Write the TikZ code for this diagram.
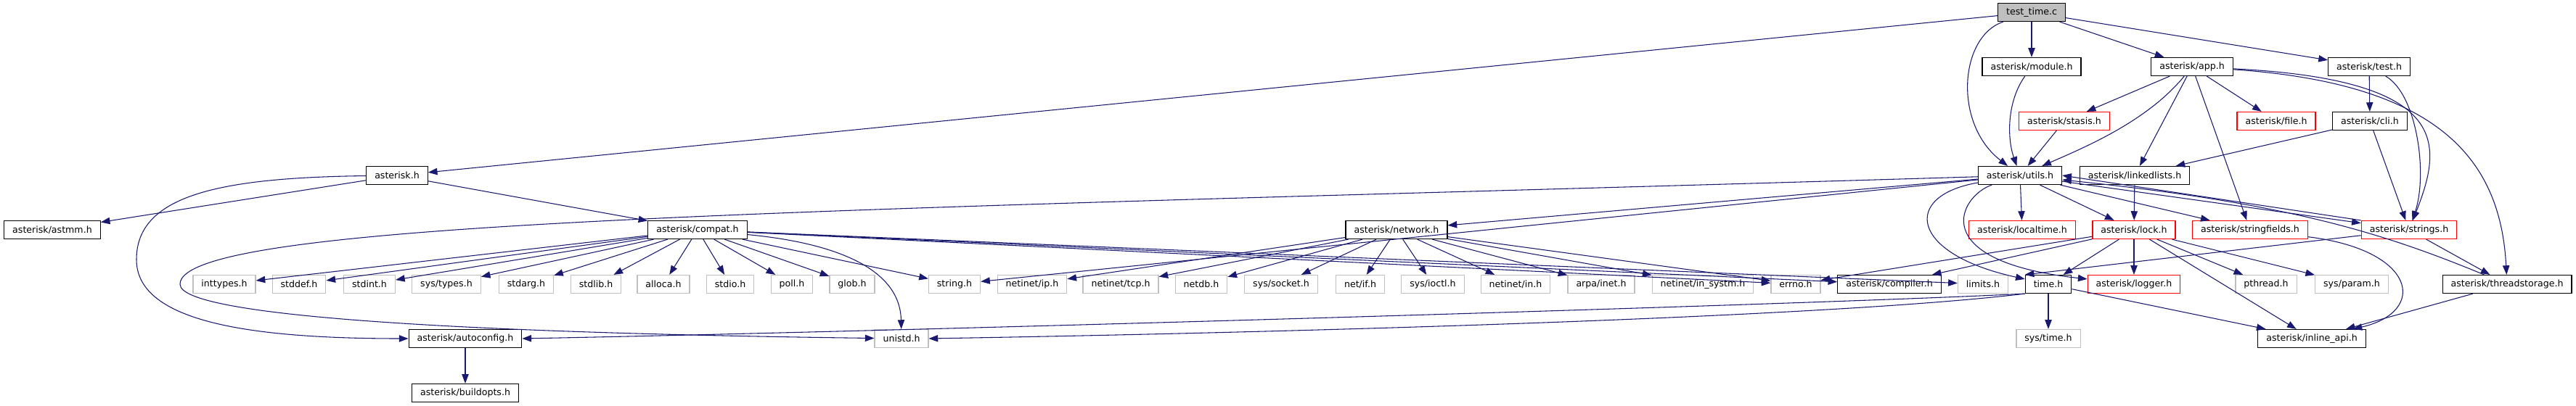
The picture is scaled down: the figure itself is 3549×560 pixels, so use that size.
\documentclass[tikz,border=0pt]{standalone}
\usepackage{fontspec}
\usepackage{xcolor}
\usepackage{tikz}
\usetikzlibrary{arrows.meta}
\newfontfamily\dejavu{DejaVu Sans}
\newcommand{\hdrfont}{\dejavu\fontsize{9.45}{11}\selectfont}
\definecolor{edgeblue}{HTML}{191970}
\definecolor{sysgrey}{HTML}{BFBFBF}

\begin{document}
\begin{tikzpicture}[
		x=0.75pt, y=-0.75pt,
		hdr/.style={rectangle, font=\hdrfont, inner xsep=8.6pt, inner ysep=2pt, minimum height=18.75pt, line width=0.9pt, fill=white},
		doc/.style={hdr, draw=black},
		part/.style={hdr, draw=red},
		sys/.style={hdr, draw=sysgrey},
		root/.style={hdr, draw=black, fill=sysgrey},
		arr/.style={-{Triangle[length=9.5pt,width=7pt]}, draw=edgeblue, line width=0.8pt}
	]
		\useasboundingbox (0,0) rectangle (3549,560);

		\node[root] (tt) at (2799,17) {test\_time.c};

		\node[doc] (module) at (2799,92) {asterisk/module.h};
		\node[doc] (app) at (3020,92) {asterisk/app.h};
		\node[doc] (test) at (3264,92) {asterisk/test.h};

		\node[part] (stasis) at (2844,167) {asterisk/stasis.h};
		\node[part] (file) at (3136,167) {asterisk/file.h};
		\node[doc] (cli) at (3265,167) {asterisk/cli.h};

		\node[doc] (asterisk) at (547,242) {asterisk.h};
		\node[doc] (utils) at (2783,242) {asterisk/utils.h};
		\node[doc] (linkedlists) at (2941,242) {asterisk/linkedlists.h};

		\node[doc] (astmm) at (72,317) {asterisk/astmm.h};
		\node[doc] (compat) at (961,317) {asterisk/compat.h};
		\node[doc] (network) at (1924,317) {asterisk/network.h};
		\node[part] (localtime) at (2786,317) {asterisk/localtime.h};
		\node[part] (lock) at (2940,317) {asterisk/lock.h};
		\node[part] (stringfields) at (3100,317) {asterisk/stringfields.h};
		\node[part] (strings) at (3319,317) {asterisk/strings.h};

		\node[sys] (inttypes) at (309,392) {inttypes.h};
		\node[sys] (stddef) at (412,392) {stddef.h};
		\node[sys] (stdint) at (509,392) {stdint.h};
		\node[sys] (systypes) at (615,392) {sys/types.h};
		\node[sys] (stdarg) at (725,392) {stdarg.h};
		\node[sys] (stdlib) at (821,392) {stdlib.h};
		\node[sys] (alloca) at (914,392) {alloca.h};
		\node[sys] (stdio) at (1006,392) {stdio.h};
		\node[sys] (poll) at (1091,392) {poll.h};
		\node[sys] (glob) at (1174,392) {glob.h};
		\node[sys] (string) at (1315,392) {string.h};
		\node[sys] (netip) at (1422,392) {netinet/ip.h};
		\node[sys] (nettcp) at (1544,392) {netinet/tcp.h};
		\node[sys] (netdb) at (1655,392) {netdb.h};
		\node[sys] (syssocket) at (1765,392) {sys/socket.h};
		\node[sys] (netif) at (1874,392) {net/if.h};
		\node[sys] (sysioctl) at (1974,392) {sys/ioctl.h};
		\node[sys] (netin) at (2088,392) {netinet/in.h};
		\node[sys] (arpainet) at (2206,392) {arpa/inet.h};
		\node[sys] (insystm) at (2346,392) {netinet/in\_systm.h};
		\node[sys] (errno) at (2474,392) {errno.h};
		\node[doc] (compiler) at (2603,392) {asterisk/compiler.h};
		\node[sys] (limits) at (2732,392) {limits.h};
		\node[doc] (time) at (2822,392) {time.h};
		\node[part] (logger) at (2940,392) {asterisk/logger.h};
		\node[sys] (pthread) at (3122,392) {pthread.h};
		\node[sys] (sysparam) at (3240,392) {sys/param.h};
		\node[doc] (threadstorage) at (3454,392) {asterisk/threadstorage.h};

		\node[doc] (autoconfig) at (641,467) {asterisk/autoconfig.h};
		\node[sys] (unistd) at (1242,467) {unistd.h};
		\node[sys] (systime) at (2822,467) {sys/time.h};
		\node[doc] (inlineapi) at (3185,467) {asterisk/inline\_api.h};

		\node[doc] (buildopts) at (641,542) {asterisk/buildopts.h};

		\draw[arr] (tt) -- (asterisk);
		\draw[arr] (tt) .. controls (2700,50) and (2690,170) .. (utils);
		\draw[arr] (tt) -- (module);
		\draw[arr] (tt) -- (app);
		\draw[arr] (tt) -- (test);

		\draw[arr] (module) .. controls (2765,140) and (2765,190) .. (utils);
		\draw[arr] (app) -- (stasis);
		\draw[arr] (app) .. controls (2960,165) and (2880,200) .. (utils);
		\draw[arr] (app) -- (linkedlists);
		\draw[arr] (app) -- (stringfields);
		\draw[arr] (app) -- (file);
		\draw[arr] (app) .. controls (3380,110) and (3365,200) .. (strings);
		\draw[arr] (app) .. controls (3360,115) and (3445,220) .. (threadstorage);
		\draw[arr] (test) -- (cli);
		\draw[arr] (test) .. controls (3330,130) and (3345,240) .. (strings);

		\draw[arr] (stasis) -- (utils);
		\draw[arr] (cli) -- (linkedlists);
		\draw[arr] (cli) -- (strings);

		\draw[arr] (asterisk) -- (astmm);
		\draw[arr] (asterisk) -- (compat);
		\draw[arr] (asterisk) .. controls (300,245) and (188,270) .. (188,358) .. controls (188,440) and (330,467) .. (autoconfig);

		\draw[arr] (utils) -- (network);
		\draw[arr] (utils) -- (string);
		\draw[arr] (utils) .. controls (1200,290) and (248,300) .. (248,392) .. controls (248,440) and (700,460) .. (unistd);
		\draw[arr] (utils) -- (localtime);
		\draw[arr] (utils) -- (lock);
		\draw[arr] (utils) -- (stringfields);
		\draw[arr] (utils) -- (strings);
		\draw[arr] (utils) .. controls (2620,270) and (2630,350) .. (time);
		\draw[arr] (utils) .. controls (2700,270) and (2650,360) .. (logger);
		\draw[arr] (linkedlists) -- (lock);

		\draw[arr] (compat) -- (inttypes);
		\draw[arr] (compat) -- (stddef);
		\draw[arr] (compat) -- (stdint);
		\draw[arr] (compat) -- (systypes);
		\draw[arr] (compat) -- (stdarg);
		\draw[arr] (compat) -- (stdlib);
		\draw[arr] (compat) -- (alloca);
		\draw[arr] (compat) -- (stdio);
		\draw[arr] (compat) -- (poll);
		\draw[arr] (compat) -- (glob);
		\draw[arr] (compat) -- (string);
		\draw[arr] (compat) .. controls (1150,335) and (1240,370) .. (unistd);
		\draw[arr] (compat) -- (errno);
		\draw[arr] (compat) -- (compiler);
		\draw[arr] (compat) -- (limits);

		\draw[arr] (network) -- (netip);
		\draw[arr] (network) -- (nettcp);
		\draw[arr] (network) -- (netdb);
		\draw[arr] (network) -- (syssocket);
		\draw[arr] (network) -- (netif);
		\draw[arr] (network) -- (sysioctl);
		\draw[arr] (network) -- (netin);
		\draw[arr] (network) -- (arpainet);
		\draw[arr] (network) -- (insystm);
		\draw[arr] (network) -- (errno);

		\draw[arr] (lock) -- (errno);
		\draw[arr] (lock) -- (compiler);
		\draw[arr] (lock) -- (time);
		\draw[arr] (lock) -- (logger);
		\draw[arr] (lock) -- (pthread);
		\draw[arr] (lock) -- (sysparam);
		\draw[arr] (lock) -- (inlineapi);
		\draw[arr] (stringfields) .. controls (3330,345) and (3345,430) .. (inlineapi);

		\draw[arr] (strings.north west) -- (utils.east);
		\draw[arr] (strings) -- (threadstorage);
		\draw[arr] (strings) -- (time.north west);
		\draw[arr] (threadstorage) .. controls (3280,320) and (3150,280) .. (utils);
		\draw[arr] (threadstorage) -- (inlineapi);

		\draw[arr] (time) -- (systime);
		\draw[arr] (time) -- (inlineapi);
		\draw[arr] (time.south west) .. controls (2500,420) and (1200,458) .. (autoconfig.east);
		\draw[arr] (time.south west) .. controls (2500,440) and (1700,460) .. (unistd.east);

		\draw[arr] (autoconfig) -- (buildopts);
	\end{tikzpicture}
\end{document}
